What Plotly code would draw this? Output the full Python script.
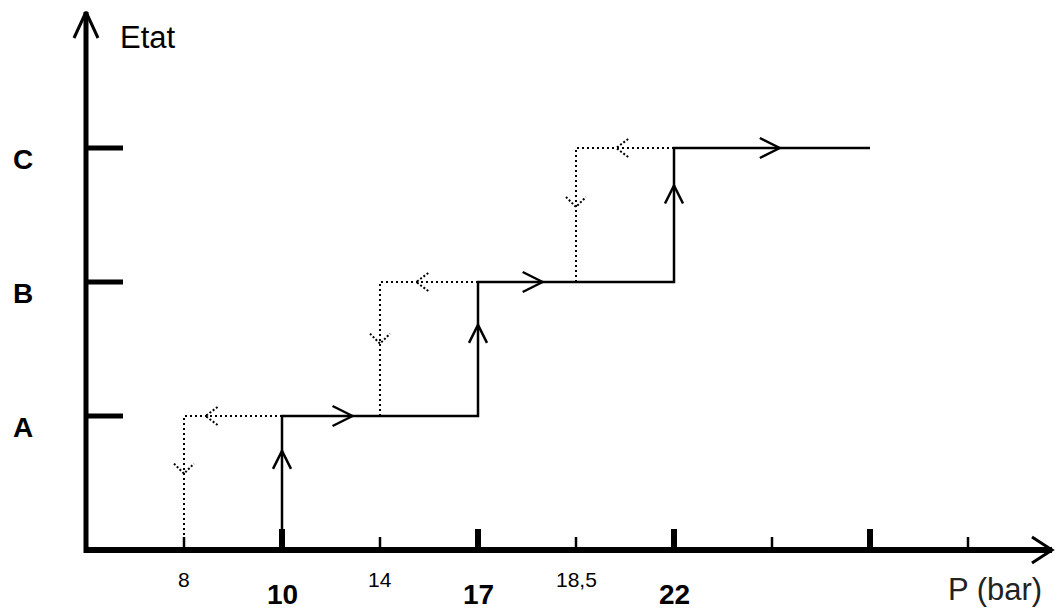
import plotly.graph_objects as go

# ---------------- data ----------------
state_labels = ["A", "B", "C"]            # levels 1, 2, 3
state_levels = [1, 2, 3]
tick_labels = ["8", "10", "14", "17", "18,5", "22", "", "", ""]   # slots 1..9 (schematic axis)
tick_slots = [1, 2, 3, 4, 5, 6, 7, 8, 9]
major_ticks = ["10", "17", "22"]          # bold thresholds
rise_pressures = ["10", "17", "22"]       # rising thresholds (solid path)
fall_pressures = ["8", "14", "18,5"]      # falling thresholds (dotted path)
end_slot = 8                              # end of the C plateau (also a major tick)

# ---------------- geometry helpers ----------------
W, H = 1057, 610
X0_PX, Y0_PX = 86, 550        # pixel of data origin
PX_X, PX_Y = 98.0, 134.0      # pixels per data unit
xr = [-X0_PX / PX_X, (W - X0_PX) / PX_X]
yr = [-(H - Y0_PX) / PX_Y, Y0_PX / PX_Y]

def slot(label):
    return tick_slots[tick_labels.index(label)]

def dx(px):
    return px / PX_X

def dy(px):
    return px / PX_Y

fig = go.Figure()

def line(xs, ys, width=2.5, dash="solid", color="black"):
    fig.add_trace(go.Scatter(x=xs, y=ys, mode="lines", hoverinfo="skip",
                             line=dict(color=color, width=width, dash=dash),
                             showlegend=False))

def chevron(x, y, direction, length, half, width=2.5, dash="solid"):
    if direction == "up":
        xs = [x - dx(half), x, x + dx(half)]
        ys = [y - dy(length), y, y - dy(length)]
    elif direction == "down":
        xs = [x - dx(half), x, x + dx(half)]
        ys = [y + dy(length), y, y + dy(length)]
    elif direction == "right":
        xs = [x - dx(length), x, x - dx(length)]
        ys = [y + dy(half), y, y - dy(half)]
    else:  # left
        xs = [x + dx(length), x, x + dx(length)]
        ys = [y + dy(half), y, y - dy(half)]
    line(xs, ys, width=width, dash=dash)

# ---------------- axes ----------------
x_end = (1052 - X0_PX) / PX_X
y_end = (Y0_PX - 12) / PX_Y
line([0, 0], [-dy(3), y_end], width=5)
line([-dx(2), x_end], [0, 0], width=6)
chevron(0, y_end, "up", 26, 12, width=3)
chevron(x_end, 0, "right", 20, 13, width=3)

# x ticks
for lab, s in zip(tick_labels, tick_slots):
    is_major = (lab in major_ticks) or (s == end_slot)
    h = 21 if is_major else 13
    line([s, s], [0, dy(h)], width=6 if is_major else 2.5)

# y ticks
for lv in state_levels:
    line([0, dx(37)], [lv, lv], width=5)

# ---------------- solid (rising) path ----------------
xs, ys = [slot(rise_pressures[0])], [0]
for i, p in enumerate(rise_pressures):
    s = slot(p)
    xs += [s, s]
    ys += [state_levels[i] - 1, state_levels[i]]
    nxt = slot(rise_pressures[i + 1]) if i + 1 < len(rise_pressures) else end_slot
    xs += [nxt]
    ys += [state_levels[i]]
line(xs, ys, width=2.5)

up_frac = [0.74, 0.68, 0.72]
right_frac = [0.36, 0.33, 0.54]
for i, p in enumerate(rise_pressures):
    s = slot(p)
    lv = state_levels[i]
    chevron(s, lv - 1 + up_frac[i], "up", 18, 9)
    nxt = slot(rise_pressures[i + 1]) if i + 1 < len(rise_pressures) else end_slot
    chevron(s + (nxt - s) * right_frac[i], lv, "right", 20, 10)

# ---------------- dotted (falling) paths ----------------
left_frac = [0.22, 0.37, 0.41]
down_frac = [0.57, 0.54, 0.56]
for i, (pr, pf) in enumerate(zip(rise_pressures, fall_pressures)):
    sr, sf = slot(pr), slot(pf)
    lv = state_levels[i]
    line([sr, sf, sf], [lv, lv, lv - 1], width=2, dash="2px,3px")
    chevron(sf + (sr - sf) * left_frac[i], lv, "left", 12, 9, width=2, dash="2px,2px")
    chevron(sf, lv - 1 + down_frac[i], "down", 10, 10, width=2, dash="2px,2px")

# ---------------- text ----------------
FONT = "Arial, Liberation Sans, sans-serif"
ann = []
for lab, s in zip(tick_labels, tick_slots):
    if not lab:
        continue
    bold = lab in major_ticks
    ann.append(dict(x=s, y=0, xref="x", yref="y", showarrow=False,
                    text=f"<b>{lab}</b>" if bold else lab,
                    yshift=-44 if bold else -29,
                    font=dict(family=FONT, size=28 if bold else 21, color="black")))
for lab, lv in zip(state_labels, state_levels):
    ann.append(dict(x=dx(23 - X0_PX), y=lv, xref="x", yref="y", showarrow=False,
                    text=f"<b>{lab}</b>", yshift=-11,
                    font=dict(family=FONT, size=28, color="black")))
ann.append(dict(x=dx(148 - X0_PX), y=dy(Y0_PX - 37), xref="x", yref="y", showarrow=False,
                text="Etat", font=dict(family=FONT, size=31, color="black")))
ann.append(dict(x=dx(995 - X0_PX), y=-dy(589 - Y0_PX), xref="x", yref="y", showarrow=False,
                text="P (bar)", font=dict(family=FONT, size=31, color="#222")))

fig.update_layout(
    width=W, height=H,
    margin=dict(l=0, r=0, t=0, b=0),
    paper_bgcolor="white", plot_bgcolor="white",
    xaxis=dict(range=xr, visible=False, fixedrange=True),
    yaxis=dict(range=yr, visible=False, fixedrange=True),
    annotations=ann,
)

fig.write_html("out.html", config={"displayModeBar": False},
               post_script="document.body.style.margin='0';document.body.style.overflow='hidden';")
